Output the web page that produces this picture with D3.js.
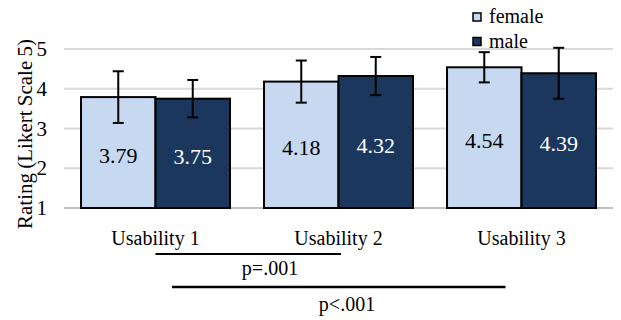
<!DOCTYPE html>
<html><head><meta charset="utf-8">
<script src="https://cdn.jsdelivr.net/npm/d3@7"></script>
<style>body{margin:0;background:#fff}svg{display:block}</style>
</head><body><svg id="c" width="621" height="320" font-family="'Liberation Serif', 'Times New Roman', Times, serif"></svg>
<script>
const categories = ["Usability 1", "Usability 2", "Usability 3"];
const seriesNames = ["female", "male"];
const femaleValues = [3.79, 4.18, 4.54];
const maleValues = [3.75, 4.32, 4.39];
const femaleErrors = [0.65, 0.53, 0.38];
const maleErrors = [0.47, 0.48, 0.64];
const yTicks = [1, 2, 3, 4, 5];
const comparisons = [
  {from: "Usability 1", to: "Usability 2", label: "p=.001"},
  {from: "Usability 1", to: "Usability 3", label: "p<.001"}
];
const colors = {female: "#c6d9f1", male: "#1b375d"};
const textColors = {female: "#000", male: "#fff"};

const svg = d3.select("#c");
const x = d3.scaleBand().domain(categories).range([64, 613]).paddingInner(0.186).paddingOuter(0.093);
const x1 = d3.scaleBand().domain(seriesNames).range([0, x.bandwidth()]);
const y = d3.scaleLinear().domain([1, 5]).range([208, 49]);

// gridlines
svg.append("g").selectAll("line").data(yTicks).join("line")
  .attr("x1", 64).attr("x2", 613)
  .attr("y1", d => y(d)).attr("y2", d => y(d))
  .attr("stroke", d => d === 1 ? "#bfbfbf" : "#d9d9d9").attr("stroke-width", 2);

// y tick labels
svg.append("g").selectAll("text").data(yTicks).join("text")
  .attr("x", 47).attr("y", d => y(d) + 7)
  .attr("text-anchor", "end").attr("font-size", 21).text(d => d);

// axis title
svg.append("text").attr("transform", "translate(32,134) rotate(-90)")
  .attr("text-anchor", "middle").attr("font-size", 21).attr("word-spacing", -1)
  .text("Rating (Likert Scale 5)");

const rows = categories.map((c, i) => ({cat: c, vals: [
  {s: "female", v: femaleValues[i], e: femaleErrors[i]},
  {s: "male", v: maleValues[i], e: maleErrors[i]}
]}));

const g = svg.append("g").selectAll("g").data(rows).join("g")
  .attr("transform", d => `translate(${x(d.cat)},0)`);

g.selectAll("rect").data(d => d.vals).join("rect")
  .attr("x", d => x1(d.s)).attr("width", x1.bandwidth())
  .attr("y", d => y(d.v)).attr("height", d => y(1) - y(d.v))
  .attr("fill", d => colors[d.s]).attr("stroke", "#000").attr("stroke-width", 2);

g.selectAll("text.val").data(d => d.vals).join("text").attr("class", "val")
  .attr("x", d => x1(d.s) + x1.bandwidth() / 2)
  .attr("y", d => (y(d.v) + y(1)) / 2 + 10.5)
  .attr("text-anchor", "middle").attr("font-size", 22)
  .attr("fill", d => textColors[d.s]).text(d => d.v.toFixed(2));

// error bars
const eb = g.selectAll("g.eb").data(d => d.vals).join("g").attr("class", "eb")
  .attr("stroke", "#000").attr("stroke-width", 2);
eb.append("line")
  .attr("x1", d => x1(d.s) + x1.bandwidth() / 2).attr("x2", d => x1(d.s) + x1.bandwidth() / 2)
  .attr("y1", d => y(d.v + d.e)).attr("y2", d => y(d.v - d.e));
eb.append("line")
  .attr("x1", d => x1(d.s) + x1.bandwidth() / 2 - 5.5).attr("x2", d => x1(d.s) + x1.bandwidth() / 2 + 5.5)
  .attr("y1", d => y(d.v + d.e)).attr("y2", d => y(d.v + d.e));
eb.append("line")
  .attr("x1", d => x1(d.s) + x1.bandwidth() / 2 - 5.5).attr("x2", d => x1(d.s) + x1.bandwidth() / 2 + 5.5)
  .attr("y1", d => y(d.v - d.e)).attr("y2", d => y(d.v - d.e));

// category labels
svg.append("g").selectAll("text").data(categories).join("text")
  .attr("x", d => x(d) + x.bandwidth() / 2).attr("y", 245)
  .attr("text-anchor", "middle").attr("font-size", 20).text(d => d);

// significance annotations
const cx = c => x(c) + x.bandwidth() / 2;
const sigGeom = [
  {x1: cx(comparisons[0].from), x2: cx(comparisons[0].to) + 2.5, ly: 254, sw: 2, tx: 270, ty: 275},
  {x1: cx(comparisons[1].from) + 16.5, x2: cx(comparisons[1].to) - 16, ly: 287, sw: 2.5, tx: 347, ty: 311}
];
comparisons.forEach((c, i) => {
  const s = sigGeom[i];
  svg.append("line").attr("x1", s.x1).attr("x2", s.x2).attr("y1", s.ly).attr("y2", s.ly)
    .attr("stroke", "#000").attr("stroke-width", s.sw);
  svg.append("text").attr("x", s.tx).attr("y", s.ty).attr("text-anchor", "middle")
    .attr("font-size", 20).text(c.label);
});

// legend
const lg = svg.append("g").selectAll("g").data(seriesNames).join("g")
  .attr("transform", (d, i) => `translate(473,${13 + i * 24.5})`);
lg.append("rect").attr("width", 8).attr("height", 8)
  .attr("fill", d => colors[d]).attr("stroke", "#000").attr("stroke-width", 1.5);
lg.append("text").attr("x", 16).attr("y", 10).attr("font-size", 20).text(d => d);
</script></body></html>
